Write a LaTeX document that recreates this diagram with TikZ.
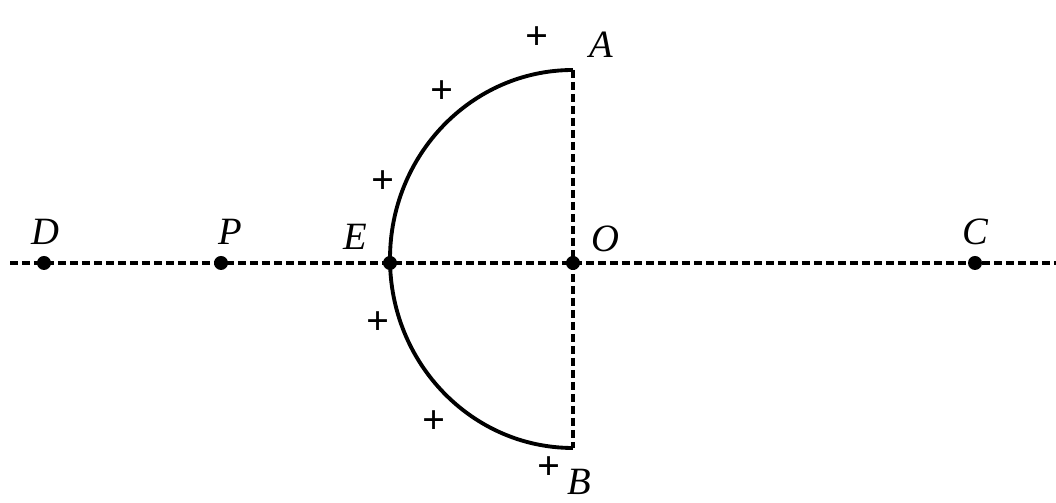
\documentclass[tikz,border=0pt]{standalone}
\usepackage{fontspec}
\setmainfont{Liberation Serif}
\usepackage{tikz}
\usetikzlibrary{positioning, calc}

\begin{document}
\begin{tikzpicture}[
            x=0.02cm, y=0.02cm,
            dot/.style={circle, fill=black, inner sep=0pt, minimum size=0.28cm},
            axis/.style={line width=1.8pt, dash pattern=on 0.17cm off 0.07cm},
            shell/.style={line width=2.2pt},
            ptlabel/.style={font=\fontsize{22}{24}\selectfont\itshape, inner sep=0pt},
            charge/.style={font=\fontsize{23}{24}\selectfont\bfseries, inner sep=0pt}
        ]
        \useasboundingbox (0,0) rectangle (1056,503);

        % Punkte
        \coordinate (L) at (10,240);
        \coordinate (R) at (1056,240);
        \coordinate (A) at (573,433);
        \coordinate (B) at (573,55);
        \node[dot] (D) at (44,240) {};
        \node[dot] (P) at (221,240) {};
        \node[dot] (E) at (390,240) {};
        \node[dot] (O) at (573,240) {};
        \node[dot] (C) at (975,240) {};

        % Achsen
        \draw[axis] (L) -- (R);
        \draw[axis] (A) -- (B);

        % Halbkreis
        \draw[shell] (A) arc[start angle=90, end angle=270, x radius=183, y radius=189];

        % Beschriftung
        \node[ptlabel] (lD) at (45,271) {D};
        \node[ptlabel] (lP) at (230,271) {P};
        \node[ptlabel] (lE) at (355,266) {E};
        \node[ptlabel] (lO) at (605,264) {O};
        \node[ptlabel] (lC) at (975,271) {C};
        \node[ptlabel] (lA) at (601,458) {A};
        \node[ptlabel] (lB) at (579,21) {B};

        % Ladungen
        \node[charge] (q1) at (537,465) {+};
        \node[charge] (q2) at (442,411) {+};
        \node[charge] (q3) at (383,321) {+};
        \node[charge] (q4) at (378,180) {+};
        \node[charge] (q5) at (434,81) {+};
        \node[charge] (q6) at (549,35) {+};

    \end{tikzpicture}
\end{document}
